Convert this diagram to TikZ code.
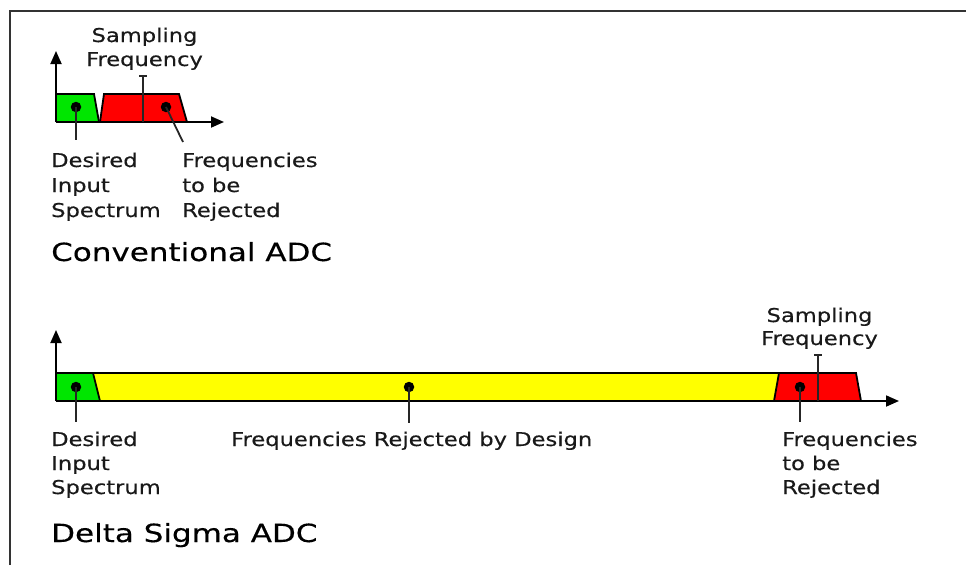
\documentclass[tikz,border=0pt]{standalone}
\usepackage{fontspec}
\usetikzlibrary{arrows.meta}
\newfontfamily\lblfont[FakeStretch=1.19,FakeBold=0.4]{DejaVu Sans}
\newfontfamily\ttlfont[FakeStretch=1.24,FakeBold=0.4]{DejaVu Sans}
\definecolor{ggreen}{RGB}{0,230,0}
\definecolor{rred}{RGB}{255,0,0}
\definecolor{yyellow}{RGB}{255,255,0}
\definecolor{txt}{RGB}{25,25,25}
\tikzset{
  lbl/.style={inner sep=0pt, anchor=base west, text=txt, font=\lblfont\fontsize{19}{25}\selectfont},
  lblc/.style={lbl, anchor=base},
  ttl/.style={inner sep=0pt, anchor=base west, text=black, font=\ttlfont\fontsize{25}{30}\selectfont},
  band/.style={draw=black, line width=1.8pt, line join=miter},
  axis/.style={line width=1.8pt, -{Triangle[length=13pt,width=11pt]}},
  lead/.style={line width=1.8pt, draw=black!85},
  dotm/.style={circle, fill=black, inner sep=0pt, minimum size=10.5pt},
  frame/.style={line width=1.8pt, draw=black!80}
}
\begin{document}
\begin{tikzpicture}[x=1pt, y=-1pt]
\useasboundingbox (0,0) rectangle (966,565);
% frame
\draw[frame] (10,565) -- (10,11) -- (966,11);

% ---------- Conventional ADC ----------
\fill[ggreen] (56,94) -- (94,94) -- (99,122) -- (56,122) -- cycle;
\draw[band] (56,94) -- (94,94) -- (99,122);
\fill[rred] (100,122) -- (104,94) -- (179,94) -- (187,122) -- cycle;
\draw[band] (100,122) -- (104,94) -- (179,94) -- (187,122);
\coordinate (o1) at (56,122);
\coordinate (x1) at (224,122);
\coordinate (y1) at (56,51);
\draw[axis] (o1) -- (x1);
\draw[axis] (o1) -- (y1);
% sampling marker
\coordinate (s1b) at (143,122);
\coordinate (s1t) at (143,76);
\draw[lead] (s1b) -- (s1t);
\draw[lead] ([xshift=-4pt]s1t) -- ([xshift=4pt]s1t);
% dots
\node[dotm] (g1) at (76,107) {};
\node[dotm] (r1) at (166,107) {};
\coordinate (g1e) at (76,140);
\coordinate (r1e) at (183,142);
\draw[lead] (g1.center) -- (g1e);
\draw[lead] (r1.center) -- (r1e);
% labels
\node[lblc] (sf1a) at (144.5,42) {Sampling};
\node[lblc] (sf1b) at (144.5,66) {Frequency};
\node[lbl] (d1a) at (51,167) {Desired};
\node[lbl] (d1b) at (51,192) {Input};
\node[lbl] (d1c) at (51,217) {Spectrum};
\node[lbl] (f1a) at (182,167) {Frequencies};
\node[lbl] (f1b) at (182,192) {to be};
\node[lbl] (f1c) at (182,217) {Rejected};
\node[ttl] (t1) at (51,261) {Conventional ADC};

% ---------- Delta Sigma ADC ----------
\fill[ggreen] (56,373) -- (93,373) -- (100,401) -- (56,401) -- cycle;
\fill[yyellow] (93,373) -- (779,373) -- (774,401) -- (100,401) -- cycle;
\fill[rred] (774,401) -- (779,373) -- (856,373) -- (861,401) -- cycle;
\draw[band] (56,373) -- (856,373) -- (861,401);
\draw[band] (93,373) -- (100,401);
\draw[band] (779,373) -- (774,401);
\coordinate (o2) at (56,401);
\coordinate (x2) at (899,401);
\coordinate (y2) at (56,330);
\draw[axis] (o2) -- (x2);
\draw[axis] (o2) -- (y2);
\coordinate (s2b) at (818,401);
\coordinate (s2t) at (818,355);
\draw[lead] (s2b) -- (s2t);
\draw[lead] ([xshift=-4pt]s2t) -- ([xshift=4pt]s2t);
\node[dotm] (g2) at (76,387) {};
\node[dotm] (yl2) at (409,387) {};
\node[dotm] (r2) at (800,387) {};
\coordinate (g2e) at (76,422);
\coordinate (yl2e) at (409,423);
\coordinate (r2e) at (800,422);
\draw[lead] (g2.center) -- (g2e);
\draw[lead] (yl2.center) -- (yl2e);
\draw[lead] (r2.center) -- (r2e);
\node[lblc] (sf2a) at (819.5,322) {Sampling};
\node[lblc] (sf2b) at (819.5,345) {Frequency};
\node[lbl] (d2a) at (51,446) {Desired};
\node[lbl] (d2b) at (51,470) {Input};
\node[lbl] (d2c) at (51,494) {Spectrum};
\node[lbl] (fr2) at (231,446) {Frequencies Rejected by Design};
\node[lbl] (f2a) at (782,446) {Frequencies};
\node[lbl] (f2b) at (782,470) {to be};
\node[lbl] (f2c) at (782,494) {Rejected};
\node[ttl] (t2) at (51,542) {Delta Sigma ADC};
\end{tikzpicture}
\end{document}
